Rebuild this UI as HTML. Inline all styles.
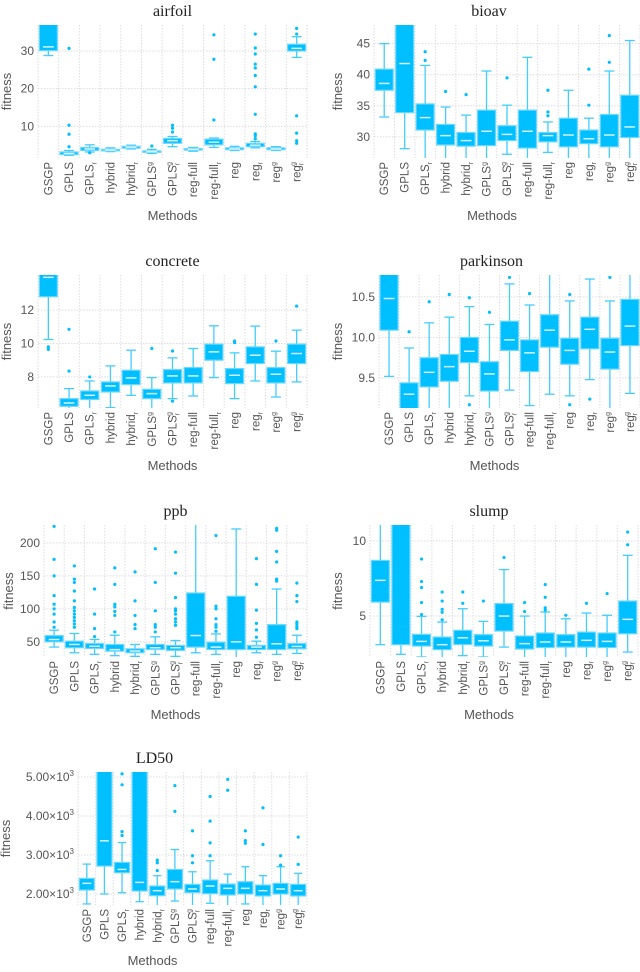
<!DOCTYPE html>
<html><head><meta charset="utf-8">
<style>
html,body{margin:0;padding:0;background:#fff;}
svg{display:block;}
.tick{font-family:"Liberation Sans",sans-serif;font-size:12px;fill:#555;}
.xl{font-family:"Liberation Sans",sans-serif;font-size:11.5px;fill:#555;}
.ttl{font-family:"Liberation Serif",serif;font-size:16px;fill:#222;}
.axt{font-family:"Liberation Sans",sans-serif;font-size:13px;fill:#555;}
</style></head>
<body>
<svg id="chart" width="640" height="972" viewBox="0 0 640 972" xmlns="http://www.w3.org/2000/svg"></svg>
<script>
// Categories
const methodBase = ["GSGP","GPLS","GPLS","hybrid","hybrid","GPLS","GPLS","reg-full","reg-full","reg","reg","reg","reg"];
const methodSub  = ["","","r","","r","","r","","r","","r","","r"];
const methodSup  = ["","","","","","g","g","","","","","g","g"];

// airfoil: [lo,q1,med,q3,hi]
const airfoilStats = [[28.8,30.1,31.1,40,45],[2.3,2.5,2.8,3.2,3.6],[3.2,3.6,4.0,4.4,5.1],[3.3,3.5,3.7,3.9,4.3],[4.0,4.2,4.5,4.7,5.0],[2.8,3.1,3.3,3.5,3.9],[4.6,5.5,6.2,6.8,7.3],[3.4,3.7,3.9,4.1,4.4],[4.4,5.1,5.8,6.6,6.9],[3.6,3.8,4.0,4.3,4.7],[4.3,4.6,5.0,5.5,6.0],[3.6,3.8,4.0,4.3,4.6],[28.3,30.0,30.7,31.8,33.8]];
const airfoilOut = [[],[30.7,10.3,7.9,4.6],[3.0],[],[],[4.8],[8.5,9.5,10.3],[],[11.7,27.8,34.3],[],[6.7,7.5,8,13.2,20.5,23.5,25.5,26.5,29.2,30.8,34.5],[],[34.5,36,12.8,8.2,6.2,5.5]];
const airfoilTicks = [10,20,30];

const bioavStats = [[33.2,37.5,38.6,40.9,45],[28.1,33.9,41.8,50,55],[26,31.1,33.1,35.3,41.5],[26,28.7,30.2,32,34.8],[26,28.5,29.4,30.7,33.5],[26,28.6,30.9,34.3,40.6],[27.2,29.4,30.4,31.8,35.1],[26,28.2,30.9,34.3,42.8],[27.5,29.2,30.2,30.7,32.4],[26,28.4,30.3,33,37.5],[26,28.9,29.7,31.1,33],[26,28.4,30.3,33.6,40.6],[26,29.9,31.6,36.7,45.5]];
const bioavOut = [[],[],[42.3,43.7],[37.3],[36.8],[],[39.5],[],[33.4,34,37.5],[],[35.1,40.9],[42,46.3],[]];
const bioavTicks = [30,35,40,45];

const concreteStats = [[10.24,12.8,13.96,15,16],[6.0,6.24,6.44,6.7,7.3],[6.1,6.65,6.9,7.16,7.76],[6.16,7.1,7.46,7.7,8.66],[6.9,7.54,7.94,8.4,9.6],[6.1,6.7,7.0,7.26,7.96],[6.7,7.64,8.06,8.44,9.14],[6.86,7.64,8.06,8.56,9.7],[7.96,9.0,9.5,9.96,11.06],[6.7,7.6,8.1,8.5,9.44],[7.76,8.8,9.3,9.8,11.04],[6.8,7.64,8.16,8.56,9.54],[7.7,8.8,9.4,9.96,10.8]];
const concreteOut = [[9.8,9.65],[8.35,10.85],[8.0],[],[],[9.7],[9.55,6.55],[],[],[10.05,10.15],[],[10.15],[12.24]];
const concreteTicks = [8,10,12];

const parkinsonStats = [[9.52,10.09,10.48,11,11],[8.9,8.95,9.3,9.44,9.87],[9.0,9.39,9.57,9.75,10.18],[9.0,9.46,9.64,9.79,10.25],[9.28,9.69,9.83,10.0,10.38],[9.0,9.34,9.55,9.7,10.16],[9.35,9.84,9.97,10.2,10.66],[9.16,9.58,9.81,9.97,10.4],[9.3,9.88,10.09,10.28,10.9],[9.28,9.67,9.84,9.99,10.45],[9.48,9.86,10.1,10.25,10.72],[9.0,9.61,9.82,9.99,10.45],[9.31,9.9,10.14,10.47,10.9]];
const parkinsonOut = [[],[10.07],[10.44],[10.53],[10.49,9.17],[10.31],[10.74],[10.54],[],[10.53,9.17],[9.24],[10.74],[]];
const parkinsonTicks = [9.5,10.0,10.5];

const ppbStats = [[42,50,53.5,59.5,67.6],[33.4,41,46,51,62.6],[31,40,43.3,47.4,53.5],[29,35.8,38.2,46,60],[28,33.4,36,39.4,46],[31,38.3,41,46,57.6],[28,37,41,44.6,52],[33.4,42,59.5,124,240],[31,38.3,42,49.5,62],[26,38.3,50,119,221],[33.4,38.3,42,44.6,51],[31,38.3,47,76,130],[32.4,39.4,43,47.4,60]];
const ppbOut = [[72,80,92,100,107,120,150,175,225],[72,77,82,87,92,97,102,112,127,140,145,165],[58,70,92,130],[65,90,96,103,107,137,162],[70,76,90,112,156],[65,72,76,97,140,191],[75,80,85,92,97,100,117,154,186],[],[66,72,76,85,100,104,211],[],[57,68,78,98,137,176],[142,145,171,187,219,222],[70,73,77,80,111,120,139]];
const ppbTicks = [50,100,150,200];

const slumpStats = [[3.09,5.93,7.38,8.71,11.5],[2.45,3.09,13,14,15],[2.27,3.0,3.31,3.78,4.98],[2.1,2.76,3.09,3.6,4.6],[2.36,3.1,3.55,4.05,5.49],[2.27,3.0,3.35,3.76,4.65],[2.93,4.0,5.0,5.83,8.1],[2.1,2.8,3.16,3.67,5.0],[2.1,2.9,3.27,3.87,5.27],[2.16,2.93,3.27,3.76,4.82],[2.1,2.93,3.38,3.93,5.2],[2.1,2.9,3.31,3.87,5.05],[2.6,3.82,4.78,6.0,9.05]];
const slumpOut = [[],[],[5.1,5.9,6.9,7.3,8.8],[4.75,5.25,5.45,6.0,6.6],[5.85,6.6],[6.0],[8.9],[5.3,5.9],[5.4,5.55,6.25,7.1],[5.05],[5.85],[6.5],[9.75,10.6]];
const slumpTicks = [5,10];

const ld50Stats = [[1745,2102,2273,2400,2767],[2000,2716,3363,6000,7000],[2033,2545,2630,2810,3320],[1803,2077,2298,6000,7000],[1700,1957,2085,2205,2470],[1820,2128,2316,2630,3140],[1700,2035,2128,2247,2570],[1762,2009,2205,2358,2852],[1700,1975,2145,2255,2510],[1745,2000,2145,2315,2700],[1700,1950,2085,2230,2470],[1700,2000,2128,2273,2700],[1700,1950,2085,2247,2530]];
const ld50Out = [[],[],[3500,3600,4800,5080],[],[2600,2800,2870],[4120,4780],[2800,2980,3620],[2980,3310,3870,4500],[4660,4940],[3300,3370,3620],[3270,4210],[2740,2980],[2760,3460]];
const ld50Ticks = [2000,3000,4000,5000];

const NS = "http://www.w3.org/2000/svg";
const svg = document.getElementById("chart");
function mk(tag, attrs, parent){
  const e = document.createElementNS(NS, tag);
  for (const k in attrs) e.setAttribute(k, attrs[k]);
  (parent||svg).appendChild(e);
  return e;
}

const panels = [
  {id:"airfoil", title:"airfoil", x0:38, x1:307, y0:25, y1:158, dmin:1.6, dmax:36.9, stats:airfoilStats, out:airfoilOut, ticks:airfoilTicks, fmt:v=>String(v), bw:18, fitX:6},
  {id:"bioav", title:"bioav", x0:374, x1:640, y0:25, y1:158, dmin:26.6, dmax:48.0, stats:bioavStats, out:bioavOut, ticks:bioavTicks, fmt:v=>String(v), bw:18, fitX:337},
  {id:"concrete", title:"concrete", x0:38, x1:307, y0:275, y1:408, dmin:6.14, dmax:14.1, stats:concreteStats, out:concreteOut, ticks:concreteTicks, fmt:v=>String(v), bw:18, fitX:6},
  {id:"parkinson", title:"parkinson", x0:379, x1:640, y0:275, y1:408, dmin:9.13, dmax:10.77, stats:parkinsonStats, out:parkinsonOut, ticks:parkinsonTicks, fmt:v=>v.toFixed(1), bw:18, fitX:337},
  {id:"ppb", title:"ppb", x0:44, x1:307, y0:525, y1:657, dmin:27, dmax:227, stats:ppbStats, out:ppbOut, ticks:ppbTicks, fmt:v=>String(v), bw:18, fitX:8},
  {id:"slump", title:"slump", x0:370, x1:638, y0:525, y1:657, dmin:2.27, dmax:11.07, stats:slumpStats, out:slumpOut, ticks:slumpTicks, fmt:v=>String(v), bw:18, fitX:337},
  {id:"ld50", title:"LD50", x0:78, x1:307, y0:772, y1:905, dmin:1718, dmax:5128, stats:ld50Stats, out:ld50Out, ticks:ld50Ticks, fmt:null, bw:15, fitX:5}
];

const defs = mk("defs", {});
panels.forEach(p => {
  const g = mk("g", {});
  
  
  const n = methodBase.length;
  const band = (p.x1 - p.x0) / n;
  const xc = i => p.x0 + band * (i + 0.5);
  const yv = v => p.y1 - (v - p.dmin) / (p.dmax - p.dmin) * (p.y1 - p.y0);

  const cp = mk("clipPath", {id:"clip-"+p.id}, defs);
  mk("rect", {x:p.x0, y:p.y0, width:p.x1-p.x0, height:p.y1-p.y0}, cp);

  for (let i = 0; i <= n; i++) {
    const gx = p.x0 + band * i;
    const l = mk("line", {x1:gx, x2:gx, y1:p.y0, y2:p.y1, stroke:"#dcdce4", "stroke-width":1, "stroke-dasharray":"1.5,1.5"}, g);
    
    
  }
  p.ticks.forEach(t => {
    const ty = yv(t);
    const l = mk("line", {x1:p.x0, x2:p.x1, y1:ty, y2:ty, stroke:"#dcdce4", "stroke-width":1, "stroke-dasharray":"1.5,1.5"}, g);
    
    
    const tx = mk("text", {x:p.x0-4, y:ty+4, "text-anchor":"end", class:"tick"}, g);
    
    
    if (p.fmt) { tx.textContent = p.fmt(t); }
    else {
      tx.textContent = (t/1000).toFixed(2) + "\u00d710";
      const s = mk("tspan", {dy:-5, "font-size":"8px"}, tx);
      s.textContent = "3";
    }
  });

  const pg = mk("g", {"clip-path":"url(#clip-"+p.id+")"}, g);
  p.stats.forEach((s, i) => {
    const cx = xc(i), hw = p.bw/2;
    const [lo,q1,md,q3,hi] = s;
    const w1 = mk("line", {x1:cx, x2:cx, y1:yv(hi), y2:yv(q3), stroke:"#45ccff", "stroke-width":1.3}, pg);
    
    
    const w2 = mk("line", {x1:cx, x2:cx, y1:yv(q1), y2:yv(lo), stroke:"#45ccff", "stroke-width":1.3}, pg);
    
    
    const c1 = mk("line", {x1:cx-hw*0.55, x2:cx+hw*0.55, y1:yv(hi), y2:yv(hi), stroke:"#45ccff", "stroke-width":1.3}, pg);
    
    
    const c2 = mk("line", {x1:cx-hw*0.55, x2:cx+hw*0.55, y1:yv(lo), y2:yv(lo), stroke:"#45ccff", "stroke-width":1.3}, pg);
    
    
    const b = mk("rect", {x:cx-hw, y:yv(q3), width:p.bw, height:Math.max(1, yv(q1)-yv(q3)), fill:"#00bfff", stroke:"#6cd8ff", "stroke-width":1.2}, pg);
    
    
    const m = mk("line", {x1:cx-hw*0.6, x2:cx+hw*0.6, y1:yv(md), y2:yv(md), stroke:"#d6f3ff", "stroke-width":1.5}, pg);
    
    
    p.out[i].forEach(o => {
      const d = mk("circle", {cx:cx, cy:yv(o), r:1.6, fill:"#00bfff"}, pg);
      
      
    });
    const ly = p.y1 + 4;
    const t = mk("text", {x:cx+4, y:ly, "text-anchor":"end", class:"xl", transform:"rotate(-90 "+(cx+4)+" "+ly+")"}, g);
    
    
    const b0 = mk("tspan", {}, t); b0.textContent = methodBase[i];
    if (methodSub[i] && methodSup[i]) {
      const a = mk("tspan", {dy:3, "font-size":"7px"}, t); a.textContent = methodSub[i];
      const c = mk("tspan", {dx:-3, dy:-8, "font-size":"7px"}, t); c.textContent = methodSup[i];
      const z = mk("tspan", {dy:5, "font-size":"1px"}, t); z.textContent = " ";
    } else if (methodSub[i]) {
      const a = mk("tspan", {dy:3, "font-size":"7px"}, t); a.textContent = methodSub[i];
    } else if (methodSup[i]) {
      const c = mk("tspan", {dy:-4, "font-size":"7px"}, t); c.textContent = methodSup[i];
    }
  });

  const tt = mk("text", {x:(p.x0+p.x1)/2 + (p.id==="bioav"||p.id==="parkinson"?-18:(p.id==="slump"?-15:(p.id==="ld50"?-38:0))), y:p.y0-9, "text-anchor":"middle", class:"ttl"}, g);
  
  
  tt.textContent = p.title;

  const mx = mk("text", {x:(p.x0+p.x1)/2 + (p.x0>300? -15 : (p.id==="ld50"?-40:0)), y:p.y1+(p.id==="ld50"?60:62), "text-anchor":"middle", class:"axt"}, g);
  
  
  mx.textContent = "Methods";

  const fy = (p.y0+p.y1)/2;
  const fx = p.fitX + 5;
  const ft = mk("text", {x:fx, y:fy, "text-anchor":"middle", class:"axt", transform:"rotate(-90 "+fx+" "+fy+")"}, g);
  
  
  ft.textContent = "fitness";
});
</script>
</body></html>
